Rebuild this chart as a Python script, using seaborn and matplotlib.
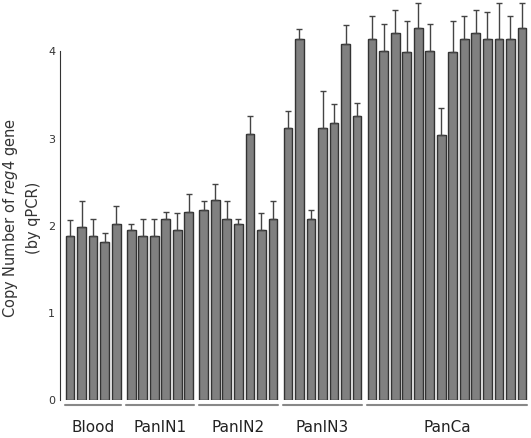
import numpy as np
import pandas as pd
import matplotlib
matplotlib.use("Agg")
import matplotlib.pyplot as plt
import matplotlib.transforms as mtransforms
import seaborn as sns

# copy number of reg4 by qPCR, mean and upper error end per sample
groups = ["Blood", "PanIN1", "PanIN2", "PanIN3", "PanCa"]
blood = [1.88, 1.98, 1.88, 1.81, 2.02]
blood_err = [2.06, 2.28, 2.08, 1.91, 2.22]
panin1 = [1.95, 1.88, 1.88, 2.08, 1.95, 2.16]
panin1_err = [2.02, 2.08, 2.08, 2.16, 2.15, 2.36]
panin2 = [2.18, 2.29, 2.08, 2.02, 3.05, 1.95, 2.08]
panin2_err = [2.28, 2.48, 2.28, 2.08, 3.26, 2.15, 2.28]
panin3 = [3.12, 4.14, 2.08, 3.12, 3.18, 4.08, 3.26]
panin3_err = [3.32, 4.26, 2.18, 3.54, 3.40, 4.30, 3.41]
panca = [4.14, 4.00, 4.21, 3.99, 4.27, 4.00, 3.04, 3.99, 4.14, 4.21, 4.14, 4.14, 4.14, 4.27]
panca_err = [4.41, 4.31, 4.48, 4.35, 4.55, 4.31, 3.35, 4.35, 4.41, 4.48, 4.45, 4.55, 4.41, 4.55]

values = [blood, panin1, panin2, panin3, panca]
errs = [blood_err, panin1_err, panin2_err, panin3_err, panca_err]

group_gap = 0.3
rows = []
i = 0
for g, (name, vals, tops) in enumerate(zip(groups, values, errs)):
    for v, t in zip(vals, tops):
        rows.append({"pos": i + g * group_gap, "group": name, "copy": v, "top": t})
        i += 1
df = pd.DataFrame(rows)

sns.set_style("white")
fig = plt.figure(figsize=(5.31, 4.38), dpi=100)
ax = fig.add_axes([0.113, 0.087, 0.883, 0.913])

sns.barplot(data=df, x="pos", y="copy", native_scale=True, width=0.76,
            color="#808080", saturation=1, edgecolor="#333333", linewidth=1,
            errorbar=None, ax=ax)
ax.errorbar(df["pos"], df["copy"], yerr=[np.zeros(len(df)), df["top"] - df["copy"]],
            fmt="none", ecolor="#444444", elinewidth=1, capsize=2, capthick=1)

ax.set_xlim(-0.87, df["pos"].max() + 0.6)
ax.set_ylim(0, 4.59)
ax.set_yticks([0, 1, 2, 3, 4])
ax.set_xticks([])
ax.set_xlabel("")
ax.set_ylabel("Copy Number of $\\it{reg4}$ gene\n(by qPCR)", fontsize=10.5,
              color="#333333", linespacing=1.5)
ax.yaxis.set_label_coords(-0.04, 0.455)
ax.tick_params(axis="y", direction="in", length=4, labelsize=8, colors="#333333")
for s in ["top", "right", "bottom"]:
    ax.spines[s].set_visible(False)
ax.spines["left"].set_bounds(0, 4)
ax.spines["left"].set_color("#333333")

# group underlines and labels
trans = mtransforms.blended_transform_factory(ax.transData, ax.transAxes)
for name in groups:
    sub = df[df["group"] == name]
    x0 = sub["pos"].min() - 0.43
    x1 = sub["pos"].max() + 0.43
    ax.plot([x0, x1], [-0.014, -0.014], color="#888888", lw=1.5,
            transform=trans, clip_on=False)
    ax.text((x0 + x1) / 2, -0.07, name, transform=trans, ha="center",
            va="center", fontsize=11, color="#222222")

fig.savefig("out.png", dpi=100)
